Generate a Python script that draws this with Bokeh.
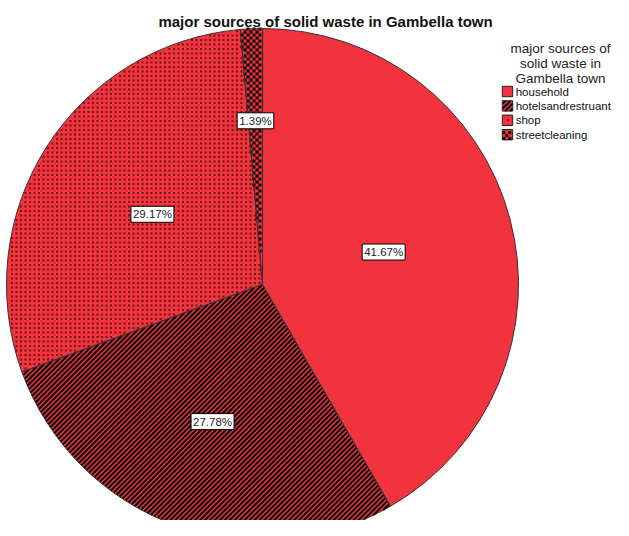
import math
import numpy as np
from bokeh.plotting import figure
from bokeh.models import Range1d, Label
from bokeh.core.properties import value
from bokeh.embed import file_html
from bokeh.resources import INLINE

# ---- data ----
title_text = "major sources of solid waste in Gambella town"
legend_title_lines = ["major sources of", "solid waste in", "Gambella town"]
categories = ["household", "hotelsandrestruant", "shop", "streetcleaning"]
percents = [41.67, 27.78, 29.17, 1.39]

# ---- styling ----
fill_kinds = ["plain", "stripes", "dots", "checker"]
label_rfrac = [0.49, 0.57, 0.51, 0.64]
RED = "#F0333D"
DOT = "#6e1318"
EDGE = "#333333"
FONT = "Liberation Sans"
STRIPE_PERIOD = 3.5
STRIPE_WIDTH = 2.0
DOT_STEP = 4.5
DOT_SIZE = 2.0
CELL = 3.0

FW, FH = 613, 520
H = 536  # reference height; data y = H - pixel row
p = figure(width=FW, height=FH, x_range=Range1d(0, FW), y_range=Range1d(H - FH, H),
           output_backend="svg", toolbar_location=None, min_border=0)
p.axis.visible = False
p.grid.visible = False
p.outline_line_color = None
p.background_fill_color = "white"

cx, cy, R = 262, H - 284, 256

# slice angles (clockwise from 12 o'clock)
starts, ends, mids = [], [], []
a = math.pi / 2
for pct in percents:
    sweep = pct / 100 * 2 * math.pi
    starts.append(a - sweep)
    ends.append(a)
    mids.append(a - sweep / 2)
    a -= sweep


def sector_fn(s, e):
    def inside(x, y, margin=0.0):
        dx, dy = x - cx, y - cy
        r = np.hypot(dx, dy)
        ds = math.cos(s) * dy - math.sin(s) * dx
        de = dx * math.sin(e) - dy * math.cos(e)
        return (r <= R - margin) & (ds >= margin) & (de >= margin)
    return inside


def box_fn(bx, by, hw):
    def inside(x, y, margin=0.0):
        return ((np.abs(x - bx) <= hw - margin) & (np.abs(y - by) <= hw - margin))
    return inside


def draw_pattern(kind, inside, xmin, xmax, ymin, ymax):
    if kind == "stripes":
        step = STRIPE_PERIOD * math.sqrt(2)
        cs = np.arange(math.floor((ymin - xmax) / step) * step, ymax - xmin + step, step)
        t = np.arange(xmin - 1, xmax + 1, 0.2)
        x0, y0, x1, y1 = [], [], [], []
        for c in cs:
            ys = t + c
            m = inside(t, ys)
            idx = np.nonzero(m)[0]
            if len(idx) < 2:
                continue
            x0.append(t[idx[0]]); y0.append(ys[idx[0]])
            x1.append(t[idx[-1]]); y1.append(ys[idx[-1]])
        p.segment(x0=x0, y0=y0, x1=x1, y1=y1, line_color="black",
                  line_width=STRIPE_WIDTH, line_cap="butt")
    elif kind == "dots":
        gx = np.arange(xmin + 1, xmax, DOT_STEP)
        gy = np.arange(ymin + 1, ymax, DOT_STEP)
        X, Y = np.meshgrid(gx, gy)
        m = inside(X, Y, margin=1.2)
        p.rect(x=X[m], y=Y[m], width=DOT_SIZE, height=DOT_SIZE,
               fill_color=DOT, line_color=None)
    elif kind == "checker":
        gx = np.arange(xmin, xmax, CELL)
        gy = np.arange(ymin, ymax, CELL)
        I, J = np.meshgrid(np.arange(len(gx)), np.arange(len(gy)))
        X = gx[I] + CELL / 2
        Y = gy[J] + CELL / 2
        m = inside(X, Y) & ((I + J) % 2 == 0)
        p.rect(x=X[m], y=Y[m], width=CELL, height=CELL,
               fill_color="black", line_color=None)


# pie fills
p.wedge(x=cx, y=cy, radius=R, start_angle=starts, end_angle=ends,
        fill_color=RED, line_color=None)
for kind, s, e in zip(fill_kinds, starts, ends):
    if kind != "plain":
        draw_pattern(kind, sector_fn(s, e), cx - R, cx + R, cy - R, cy + R)
# pie outlines
p.wedge(x=cx, y=cy, radius=R, start_angle=starts, end_angle=ends,
        fill_color=None, line_color=EDGE, line_width=1)

# percent labels
for pct, m, rf in zip(percents, mids, label_rfrac):
    lx = cx + rf * R * math.cos(m)
    ly = cy + rf * R * math.sin(m)
    p.add_layout(Label(x=lx, y=ly, text=f"{pct:.2f}%", text_align="center",
                       text_baseline="middle", text_font=FONT, text_font_size="11.5px",
                       text_color="#222222", background_fill_color="white",
                       border_line_color="black", border_line_width=1, padding=2))

# title
p.add_layout(Label(x=325, y=H - 21, text=title_text, text_align="center",
                   text_baseline="middle", text_font=FONT, text_font_size="15px",
                   text_font_style="bold", text_color="#111111"))

# legend title (kept inside the plot's right edge)
for i, line in enumerate(legend_title_lines):
    p.add_layout(Label(x=560, y=H - (48 + 15 * i), text=line, text_align="center",
                       text_baseline="middle", text_font=FONT, text_font_size="13.5px",
                       text_color="#222222"))

# legend items
ly = [H - (91 + 14.4 * i) for i in range(len(categories))]
sx, hw = 507, 5.2
for y, kind in zip(ly, fill_kinds):
    p.rect(x=sx, y=y, width=2 * hw, height=2 * hw, fill_color=RED, line_color=None)
    if kind != "plain":
        draw_pattern(kind, box_fn(sx, y, hw), sx - hw, sx + hw, y - hw, y + hw)
    p.rect(x=sx, y=y, width=2 * hw, height=2 * hw, fill_color=None,
           line_color="#222222", line_width=1)
p.text(x=[sx + hw + 3] * len(categories), y=ly, text=categories, text_align="left",
       text_baseline="middle", text_font=value(FONT), text_font_size="11.5px",
       text_color="#111111")

open("out.html", "w").write(file_html(p, INLINE))
